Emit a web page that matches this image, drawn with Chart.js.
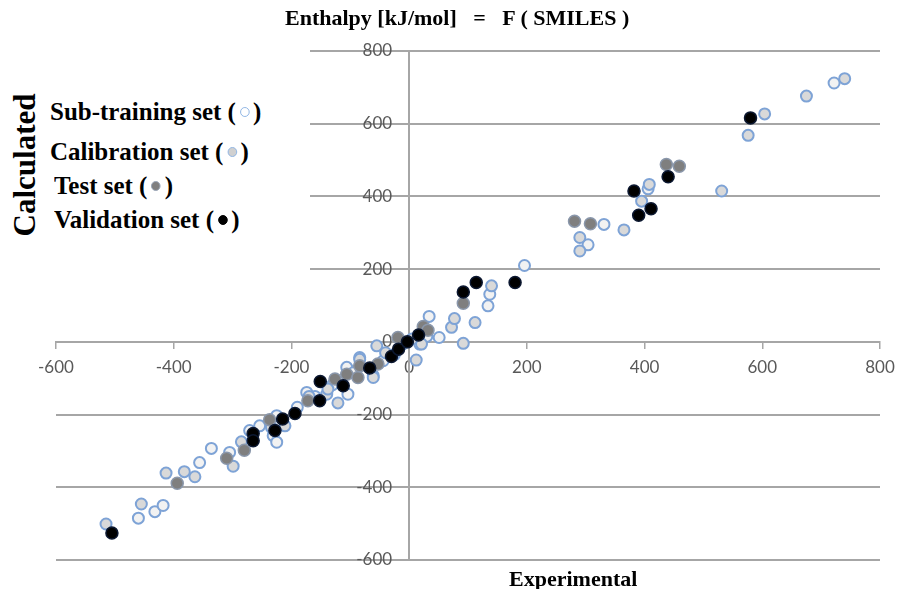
<!DOCTYPE html>
<html>
<head>
<meta charset="utf-8">
<script src="https://cdn.jsdelivr.net/npm/chart.js@4.4.1/dist/chart.umd.min.js"></script>
<style>
  html, body { margin: 0; padding: 0; background: #fff; }
  #wrap { position: relative; width: 898px; height: 589px; overflow: hidden; }
  #chart { position: absolute; left: 0; top: 0; }
  .txt { position: absolute; font-family: "Liberation Serif", "Times New Roman", serif; font-weight: bold; color: #000; white-space: pre; }
  #title { left: 285px; top: 5px; font-size: 22px; }
  #xTitle { left: 509px; top: 566px; font-size: 22px; }
  #yTitle { left: 25px; top: 165px; font-size: 31px; transform: translate(-50%, -50%) rotate(-90deg); }
  #legendBox { position: absolute; left: 0; top: 40px; width: 310px; height: 245px; background: #fff; }
  .leg { font-size: 26px; transform-origin: left center; transform: scaleX(0.96); line-height: 30px; }
  .mk { display: inline-block; width: 10px; height: 10px; border-radius: 50%; box-sizing: border-box; vertical-align: 3px; margin: 0 4px; }
</style>
</head>
<body>
<div id="wrap">
  <canvas id="chart" width="898" height="589"></canvas>
  <div id="legendBox"></div>
  <div class="txt" id="title">Enthalpy [kJ/mol]   =   F ( SMILES )</div>
  <div class="txt" id="yTitle">Calculated</div>
  <div class="txt" id="xTitle">Experimental</div>
  <div class="txt leg" style="left:50px; top:97px;">Sub-training set (<span class="mk" style="border:1.5px solid #8eb4e3; background:#fff;"></span>)</div>
  <div class="txt leg" style="left:50px; top:137px;">Calibration set (<span class="mk" style="border:1.5px solid #8eb4e3; background:#d0d0d0;"></span>)</div>
  <div class="txt leg" style="left:54px; top:171px;">Test set (<span class="mk" style="border:1.5px solid #9aa6b8; background:#7f7f7f;"></span>)</div>
  <div class="txt leg" style="left:54px; top:205px;">Validation set (<span class="mk" style="border:1.5px solid #000; background:#000;"></span>)</div>
</div>
<script>
// axes
const axisMin = -600;
const axisMax = 800;
const axisStep = 200;

// Sub-training set (open circles)
const subTrainingX = [-460, -432, -418, -356, -336, -305, -271, -254, -231, -225, -225, -190, -174, -160, -130, -104, -106, -95, -84, -61, -44, -25, -10, 18, 30, 34, 51, 134, 137, 196, 304, 331, 406, 722];
const subTrainingY = [-485, -467, -450, -332, -293, -304, -244, -231, -258, -276, -203, -180, -139, -150, -118, -144, -70, -85, -43, -93, -52, -35, -5, -6, 15, 70, 12, 99, 131, 210, 267, 323, 421, 712];

// Calibration set (light grey)
const calibrationX = [-515, -455, -413, -382, -364, -299, -285, -234, -211, -140, -121, -138, -170, -84, -61, -55, -40, 12, 21, 5, 72, 77, 92, 112, 140, 290, 290, 365, 395, 408, 531, 576, 604, 675, 740];
const calibrationY = [-501, -446, -361, -357, -371, -342, -275, -235, -231, -144, -168, -130, -150, -48, -98, -11, -30, -50, -6, 8, 40, 64, -4, 53, 154, 250, 287, 308, 387, 433, 415, 568, 627, 676, 724];

// Test set (grey)
const testX = [-394, -310, -280, -237, -172, -126, -106, -87, -84, -53, -19, 24, 32, 92, 281, 308, 437, 459];
const testY = [-389, -320, -298, -214, -162, -102, -89, -98, -66, -61, 12, 42, 32, 106, 332, 325, 488, 483];

// Validation set (black)
const validationX = [-505, -265, -265, -228, -215, -194, -152, -151, -112, -67, -30, -18, -3, 16, 92, 114, 180, 382, 390, 411, 440, 580];
const validationY = [-526, -252, -272, -244, -212, -197, -162, -109, -121, -72, -40, -20, 0, 19, 137, 163, 163, 415, 348, 366, 454, 616];

function toPoints(xs, ys) {
    return xs.map((x, i) => ({ x: x, y: ys[i] }));
}

// les axes croisés au centre ne doivent pas réduire la zone du graphique
function noEdgePadding(scale) {
    scale.paddingTop = 0;
    scale.paddingBottom = 0;
    scale.paddingLeft = 0;
    scale.paddingRight = 0;
}

const gridColor = '#a6a6a6';
const tickFont = { family: 'Lato', size: 17 };

new Chart(document.getElementById('chart'), {
    type: 'scatter',
    data: {
        datasets: [
            {
                label: 'Validation set',
                data: toPoints(validationX, validationY),
                backgroundColor: '#000000',
                borderColor: '#0b1730',
                borderWidth: 1.5,
                pointRadius: 6
            },
            {
                label: 'Test set',
                data: toPoints(testX, testY),
                backgroundColor: '#7f7f7f',
                borderColor: '#8a97ab',
                borderWidth: 1.5,
                pointRadius: 6
            },
            {
                label: 'Calibration set',
                data: toPoints(calibrationX, calibrationY),
                backgroundColor: '#d9d9d9',
                borderColor: '#7ea3d6',
                borderWidth: 2,
                pointRadius: 5.5
            },
            {
                label: 'Sub-training set',
                data: toPoints(subTrainingX, subTrainingY),
                backgroundColor: '#f2f2f2',
                borderColor: '#7ea3d6',
                borderWidth: 2,
                pointRadius: 5.5
            }
        ]
    },
    options: {
        responsive: false,
        animation: false,
        layout: {
            padding: { left: 56, right: 18, top: 51, bottom: 29 }
        },
        plugins: {
            legend: { display: false },
            tooltip: { enabled: false }
        },
        scales: {
            x: {
                type: 'linear',
                min: axisMin,
                max: axisMax,
                position: { y: 0 },
                afterFit: noEdgePadding,
                ticks: {
                    stepSize: axisStep,
                    color: '#595959',
                    font: tickFont,
                    padding: 9
                },
                grid: {
                    drawOnChartArea: false,
                    drawTicks: true,
                    tickLength: 6,
                    color: gridColor,
                    lineWidth: 1.5
                },
                border: { display: true, color: gridColor, width: 2 }
            },
            y: {
                type: 'linear',
                min: axisMin,
                max: axisMax,
                position: { x: 0 },
                afterFit: noEdgePadding,
                ticks: {
                    stepSize: axisStep,
                    color: '#595959',
                    font: tickFont,
                    // décale les libellés à gauche de l'axe central
                    callback: value => value + '\u2002\u2002'
                },
                grid: {
                    drawTicks: false,
                    color: gridColor,
                    lineWidth: 2
                },
                border: { display: true, color: gridColor, width: 2 }
            }
        }
    }
});
</script>
</body>
</html>
